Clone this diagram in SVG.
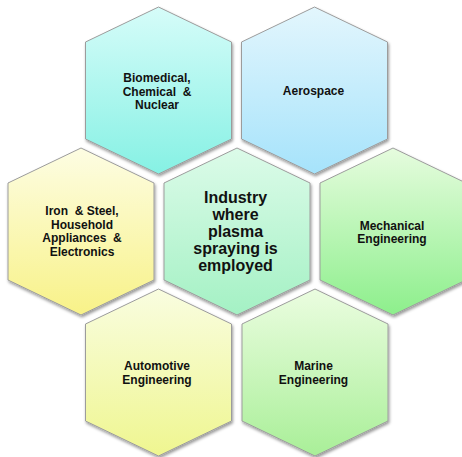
<svg xmlns="http://www.w3.org/2000/svg" width="462" height="457" viewBox="0 0 462 457">
  <defs>
    <linearGradient id="gCyan" x1="0" y1="0" x2="0" y2="1">
      <stop offset="0" stop-color="#d6fcf9"/>
      <stop offset="1" stop-color="#86f1e4"/>
    </linearGradient>
    <linearGradient id="gBlue" x1="0" y1="0" x2="0" y2="1">
      <stop offset="0" stop-color="#e3f6fd"/>
      <stop offset="1" stop-color="#a6e3fb"/>
    </linearGradient>
    <linearGradient id="gYellow" x1="0" y1="0" x2="0" y2="1">
      <stop offset="0" stop-color="#fdfde3"/>
      <stop offset="1" stop-color="#f8f288"/>
    </linearGradient>
    <linearGradient id="gMint" x1="0" y1="0" x2="0" y2="1">
      <stop offset="0" stop-color="#dcfbe9"/>
      <stop offset="1" stop-color="#a4f1c4"/>
    </linearGradient>
    <linearGradient id="gGreen" x1="0" y1="0" x2="0" y2="1">
      <stop offset="0" stop-color="#e6fcde"/>
      <stop offset="1" stop-color="#8def8c"/>
    </linearGradient>
    <linearGradient id="gLime" x1="0" y1="0" x2="0" y2="1">
      <stop offset="0" stop-color="#f9fde0"/>
      <stop offset="1" stop-color="#eff690"/>
    </linearGradient>
    <linearGradient id="gSea" x1="0" y1="0" x2="0" y2="1">
      <stop offset="0" stop-color="#ebfde0"/>
      <stop offset="1" stop-color="#a9ef98"/>
    </linearGradient>
    <filter id="shadow" x="-10%" y="-10%" width="125%" height="125%">
      <feDropShadow dx="1" dy="2" stdDeviation="1.6" flood-color="#000" flood-opacity="0.4"/>
    </filter>
  </defs>
  <style>
    .hex polygon { stroke: #9c9c9c; stroke-width: 1; filter: url(#shadow); }
    text { font-family: "Liberation Sans", Arial, sans-serif; font-weight: bold; fill: #111; text-anchor: middle; }
    .small { font-size: 12px; }
    .big { font-size: 16px; }
  </style>

  <rect width="462" height="457" fill="#ffffff"/>

  <g id="connectors"></g>

  <g id="biomedical" class="hex">
    <polygon transform="translate(158.5,90.5)" fill="url(#gCyan)" points="0,-83.5 73,-48.5 73,48.5 0,83.5 -73,48.5 -73,-48.5"/>
    <text class="small" x="157" y="82" xml:space="preserve">Biomedical,</text>
    <text class="small" x="157" y="95.5" xml:space="preserve">Chemical  &amp;</text>
    <text class="small" x="157" y="109" xml:space="preserve">Nuclear</text>
  </g>

  <g id="aerospace" class="hex">
    <polygon transform="translate(314.5,90.5)" fill="url(#gBlue)" points="0,-83.5 73,-48.5 73,48.5 0,83.5 -73,48.5 -73,-48.5"/>
    <text class="small" x="313.5" y="95">Aerospace</text>
  </g>

  <g id="iron-steel" class="hex">
    <polygon transform="translate(81,231.5)" fill="url(#gYellow)" points="0,-83.5 73,-48.5 73,48.5 0,83.5 -73,48.5 -73,-48.5"/>
    <text class="small" x="82" y="215" xml:space="preserve">Iron  &amp; Steel,</text>
    <text class="small" x="82" y="228.5" xml:space="preserve">Household</text>
    <text class="small" x="82" y="242" xml:space="preserve">Appliances  &amp;</text>
    <text class="small" x="82" y="255.5" xml:space="preserve">Electronics</text>
  </g>

  <g id="industry" class="hex">
    <polygon transform="translate(237,231.5)" fill="url(#gMint)" points="0,-83.5 73,-48.5 73,48.5 0,83.5 -73,48.5 -73,-48.5"/>
    <text class="big" x="235.5" y="203">Industry</text>
    <text class="big" x="235.5" y="220">where</text>
    <text class="big" x="235.5" y="237">plasma</text>
    <text class="big" x="235.5" y="254">spraying is</text>
    <text class="big" x="235.5" y="271">employed</text>
  </g>

  <g id="mechanical" class="hex">
    <polygon transform="translate(393,231.5)" fill="url(#gGreen)" points="0,-83.5 73,-48.5 73,48.5 0,83.5 -73,48.5 -73,-48.5"/>
    <text class="small" x="392" y="229.5">Mechanical</text>
    <text class="small" x="392" y="243">Engineering</text>
  </g>

  <g id="automotive" class="hex">
    <polygon transform="translate(158.5,372.5)" fill="url(#gLime)" points="0,-83.5 73,-48.5 73,48.5 0,83.5 -73,48.5 -73,-48.5"/>
    <text class="small" x="157" y="370">Automotive</text>
    <text class="small" x="157" y="383.5">Engineering</text>
  </g>

  <g id="marine" class="hex">
    <polygon transform="translate(315,372.5)" fill="url(#gSea)" points="0,-83.5 73,-48.5 73,48.5 0,83.5 -73,48.5 -73,-48.5"/>
    <text class="small" x="313.5" y="370">Marine</text>
    <text class="small" x="313.5" y="383.5">Engineering</text>
  </g>
</svg>
